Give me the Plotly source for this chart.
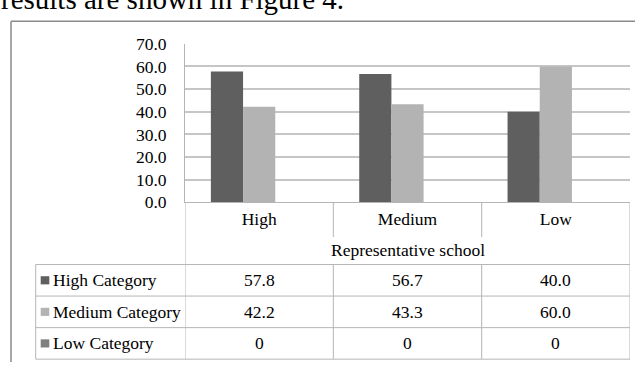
import plotly.graph_objects as go

# ---- data ----
categories = ["High", "Medium", "Low"]
series_names = ["High Category", "Medium Category", "Low Category"]
high_cat = [57.8, 56.7, 40.0]
medium_cat = [42.2, 43.3, 60.0]
low_cat = [0, 0, 0]
y_ticks = [0, 10, 20, 30, 40, 50, 60, 70]
axis_title = "Representative school"
caption = "results are shown in Figure 4."

series_values = [high_cat, medium_cat, low_cat]
colors = ["#5f5f5f", "#b3b3b3", "#808080"]

W, H = 635, 372
FONT = "Liberation Serif, Times New Roman, serif"
FS = 17.5

def px(x):
    return x / W

def py(y):
    return 1 - y / H

fig = go.Figure()
for name, vals, col in zip(series_names, series_values, colors):
    fig.add_trace(go.Bar(
        x=categories, y=vals, name=name,
        marker=dict(color=col, line=dict(width=0)),
        showlegend=False, hoverinfo="skip",
    ))

shapes = []
line_col = "#b5b5b5"
# outer frame (left + top)
shapes.append(dict(type="line", xref="paper", yref="paper",
                   x0=px(11), x1=px(11), y0=py(12), y1=py(372),
                   line=dict(color="#8a8a8a", width=1.5)))
shapes.append(dict(type="line", xref="paper", yref="paper",
                   x0=px(11), x1=px(635), y0=py(12), y1=py(12),
                   line=dict(color="#8a8a8a", width=1.5)))

# left axis continuation and right edge of table
for xv in [-0.5, 2.5]:
    shapes.append(dict(type="line", xref="x", yref="paper",
                       x0=xv, x1=xv, y0=py(203.3), y1=py(369),
                       line=dict(color=line_col, width=1)))
# category dividers in header row
for xv in [0.5, 1.5]:
    shapes.append(dict(type="line", xref="x", yref="paper",
                       x0=xv, x1=xv, y0=py(203.3), y1=py(240),
                       line=dict(color=line_col, width=1)))
    shapes.append(dict(type="line", xref="x", yref="paper",
                       x0=xv, x1=xv, y0=py(269), y1=py(369),
                       line=dict(color=line_col, width=1)))
# table horizontal lines
row_lines = [269, 302.3, 335.7, 369]
for yv in row_lines:
    shapes.append(dict(type="line", xref="paper", yref="paper",
                       x0=px(35.7), x1=px(630), y0=py(yv), y1=py(yv),
                       line=dict(color=line_col, width=1)))
# table left edge
shapes.append(dict(type="line", xref="paper", yref="paper",
                   x0=px(35.7), x1=px(35.7), y0=py(269), y1=py(369),
                   line=dict(color=line_col, width=1)))

annotations = []
# caption at top (cut off in the reference)
annotations.append(dict(text=caption, xref="paper", yref="paper",
                        x=px(-1), y=py(-12.0), xanchor="left", yanchor="middle",
                        showarrow=False, font=dict(family=FONT, size=29, color="#000")))
# axis title
annotations.append(dict(text=axis_title, xref="paper", yref="paper",
                        x=px(407.5), y=py(253.5), xanchor="center", yanchor="middle",
                        showarrow=False, font=dict(family=FONT, size=FS, color="#000")))

def fmt(v):
    return "0" if v == 0 else f"{v:.1f}"

for i, (name, vals, col) in enumerate(zip(series_names, series_values, colors)):
    top = row_lines[i]
    bot = row_lines[i + 1]
    cy = (top + bot) / 2
    # legend key
    shapes.append(dict(type="rect", xref="paper", yref="paper",
                       x0=px(40.7), x1=px(49.3), y0=py(cy - 4.3), y1=py(cy + 4.3),
                       fillcolor=col, line=dict(width=0)))
    annotations.append(dict(text=name, xref="paper", yref="paper",
                            x=px(51), y=py(cy), xanchor="left", yanchor="middle",
                            showarrow=False, font=dict(family=FONT, size=FS, color="#000")))
    for j, v in enumerate(vals):
        annotations.append(dict(text=fmt(v), xref="x", yref="paper",
                                x=j, y=py(cy), xanchor="center", yanchor="middle",
                                showarrow=False, font=dict(family=FONT, size=FS, color="#000")))

fig.update_layout(
    width=W, height=H,
    margin=dict(l=0, r=0, t=0, b=0),
    paper_bgcolor="white", plot_bgcolor="white",
    barmode="group", bargap=0.349, bargroupgap=0,
    xaxis=dict(domain=[px(185), px(630)], range=[-0.5, 2.5],
               showline=True, linecolor=line_col, linewidth=1,
               ticks="", showgrid=False, ticklabelstandoff=1,
               tickfont=dict(family=FONT, size=FS, color="#000")),
    yaxis=dict(domain=[py(203.3), py(35.7)], range=[0, 70],
               tickvals=y_ticks, tickformat=".1f",
               showline=True, linecolor=line_col, linewidth=1,
               showgrid=True, gridcolor="#c6c6c6", gridwidth=1.5,
               zeroline=False, ticks="", ticklabelstandoff=14,
               tickfont=dict(family=FONT, size=FS, color="#000")),
    shapes=shapes, annotations=annotations,
    font=dict(family=FONT),
)

fig.write_html("out.html", config={"displayModeBar": False},
               post_script="document.body.style.margin='0';document.body.style.overflow='hidden';")
